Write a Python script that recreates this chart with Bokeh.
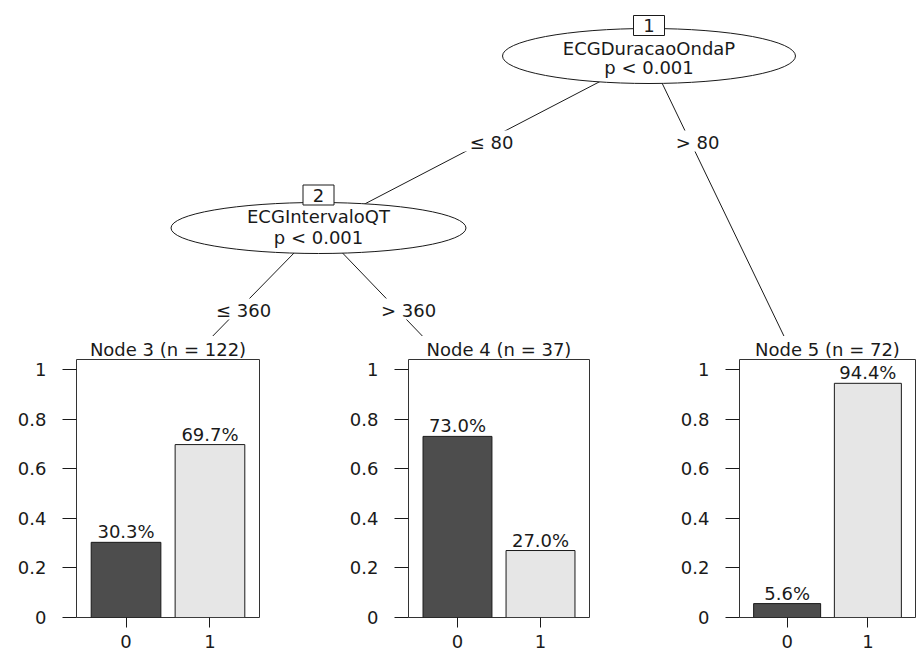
from bokeh.plotting import figure
from bokeh.layouts import column, row
from bokeh.models import Range1d, FixedTicker, CustomJSTickFormatter, ColumnDataSource
from bokeh.core.properties import value
from bokeh.embed import file_html
from bokeh.resources import INLINE

FONT = "DejaVu Sans"
FS = "18px"
INK = "#1a1a1a"

# ---------------- data ----------------
inner_ids = [1, 2]
inner_vars = ["ECGDuracaoOndaP", "ECGIntervaloQT"]
inner_p = ["p < 0.001", "p < 0.001"]
edge_labels = ["\u2264 80", "> 80", "\u2264 360", "> 360"]
terminal_ids = [3, 4, 5]
terminal_n = [122, 37, 72]
classes = ["0", "1"]
prop_class0 = [0.303, 0.730, 0.056]
prop_class1 = [0.697, 0.270, 0.944]
bar_colors = ["#4D4D4D", "#E6E6E6"]

# ---------------- tree layout (page pixels) ----------------
TOP, BOT, LEFT, RIGHT = 0, 336, 0, 917
tree = figure(width=RIGHT - LEFT, height=BOT - TOP, output_backend="svg",
              toolbar_location=None, x_range=Range1d(LEFT, RIGHT),
              y_range=Range1d(BOT, TOP), x_axis_location=None, y_axis_location=None,
              min_border=0, outline_line_color=None)
tree.grid.visible = False

node_x = [648.5, 318]
node_y = [55.5, 227.5]
ell_w = [293, 295]
ell_h = [55, 51]
var_y = [47.5, 216]
p_y = [67, 236.5]
box_y = [25, 194.5]
term_x = [203, 431, 788]
term_y = 345

edge_x0 = [node_x[0], node_x[0], node_x[1], node_x[1]]
edge_y0 = [node_y[0], node_y[0], node_y[1], node_y[1]]
edge_x1 = [node_x[1], term_x[2], term_x[0], term_x[1]]
edge_y1 = [node_y[1], term_y, term_y, term_y]
tree.segment(edge_x0, edge_y0, edge_x1, edge_y1, line_color=INK, line_width=1)

tree.ellipse(x=node_x, y=node_y, width=ell_w, height=ell_h,
             fill_color="white", line_color=INK, line_width=1)
tree.rect(x=node_x, y=box_y, width=31, height=20, fill_color="white",
          line_color=INK, line_width=1)
tree.text(x=node_x, y=box_y, text=[str(i) for i in inner_ids], text_align="center",
          text_baseline="middle", text_font=value(FONT), text_font_size=FS, text_color=INK)
tree.text(x=node_x, y=var_y, text=inner_vars, text_align="center",
          text_baseline="middle", text_font=value(FONT), text_font_size=FS, text_color=INK)
tree.text(x=node_x, y=p_y, text=inner_p, text_align="center",
          text_baseline="middle", text_font=value(FONT), text_font_size=FS, text_color=INK)

lab_x = [491, 697, 243, 408]
lab_y = [142, 142, 310, 310]
tree.rect(x=lab_x, y=[v - 1.5 for v in lab_y], width=[56, 52, 66, 66], height=21,
          fill_color="white", line_color=None)
tree.text(x=lab_x, y=lab_y, text=edge_labels, text_align="center",
          text_baseline="middle", text_font=value(FONT), text_font_size=FS, text_color=INK)

# ---------------- terminal bar plots ----------------
panel_w = [330, 345, 242]
panel_bl = [76, 78, 64]
panel_br = [71, 86, 2]
PH = 651 - BOT
panels = []
for i in range(len(terminal_ids)):
    vals = [prop_class0[i], prop_class1[i]]
    xs = list(range(len(classes)))
    src = ColumnDataSource(dict(
        x=xs, top=vals, color=bar_colors,
        lab=["%.1f%%" % (v * 100) for v in vals]))
    p = figure(width=panel_w[i], height=PH, output_backend="svg",
               toolbar_location=None, x_range=Range1d(-0.59, 1.59),
               y_range=Range1d(0, 1.04), min_border_left=panel_bl[i],
               min_border_right=panel_br[i], min_border_top=22, min_border_bottom=34,
               outline_line_color="#333333", outline_line_width=1,
               title="Node %d (n = %d)" % (terminal_ids[i], terminal_n[i]))
    p.grid.visible = False
    p.title.align = "center"
    p.title.text_font = FONT
    p.title.text_font_size = FS
    p.title.text_font_style = "normal"
    p.title.text_color = INK
    p.title.standoff = 0
    p.vbar(x="x", top="top", width=0.83, fill_color="color", line_color=INK,
           line_width=1, source=src)
    p.text(x="x", y="top", text="lab", source=src, text_align="center",
           text_baseline="middle", y_offset=-10.5, text_font=value(FONT),
           text_font_size=FS, text_color=INK)
    ya = p.yaxis[0]
    ya.ticker = FixedTicker(ticks=[0, 0.2, 0.4, 0.6, 0.8, 1.0])
    ya.formatter = CustomJSTickFormatter(code="return (Math.round(tick*10)/10).toString();")
    ya.major_tick_out = 14
    ya.major_tick_in = 0
    ya.minor_tick_line_color = None
    ya.axis_line_color = None
    ya.major_tick_line_color = INK
    ya.major_label_standoff = 16
    ya.major_label_text_font = FONT
    ya.major_label_text_font_size = FS
    ya.major_label_text_color = INK
    xa = p.xaxis[0]
    xa.ticker = FixedTicker(ticks=xs)
    xa.major_label_overrides = {k: c for k, c in zip(xs, classes)}
    xa.major_tick_out = 10
    xa.major_tick_in = 0
    xa.minor_tick_line_color = None
    xa.axis_line_color = None
    xa.major_tick_line_color = INK
    xa.major_label_standoff = 7
    xa.major_label_text_font = FONT
    xa.major_label_text_font_size = FS
    xa.major_label_text_color = INK
    panels.append(p)

layout = column(tree, row(*panels, spacing=0), spacing=0)
open("out.html", "w").write(file_html(layout, INLINE))
